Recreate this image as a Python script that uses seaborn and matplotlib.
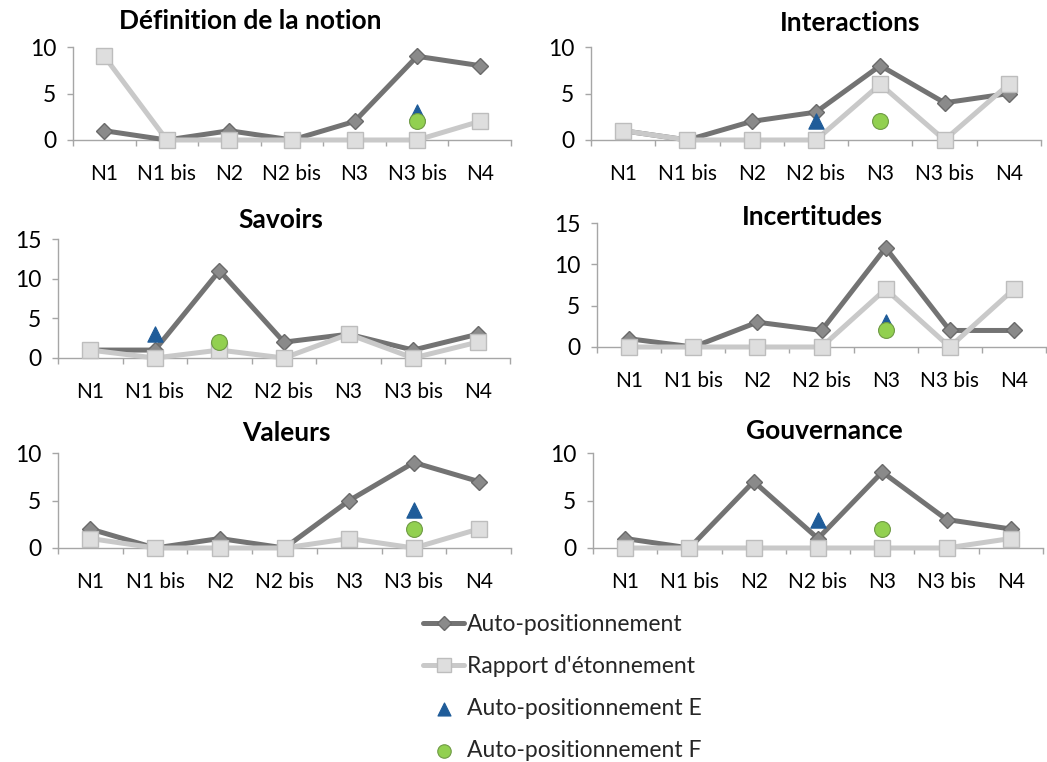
import numpy as np
import pandas as pd
import matplotlib.pyplot as plt
import seaborn as sns

# categories on the x axis
categories = ["N1", "N1 bis", "N2", "N2 bis", "N3", "N3 bis", "N4"]

# panel titles
titles = ["Définition de la notion", "Interactions", "Savoirs",
          "Incertitudes", "Valeurs", "Gouvernance"]

# Auto-positionnement (dark grey line, diamonds)
auto_def = [1, 0, 1, 0, 2, 9, 8]
auto_int = [1, 0, 2, 3, 8, 4, 5]
auto_sav = [1, 1, 11, 2, 3, 1, 3]
auto_inc = [1, 0, 3, 2, 12, 2, 2]
auto_val = [2, 0, 1, 0, 5, 9, 7]
auto_gov = [1, 0, 7, 1, 8, 3, 2]

# Rapport d'étonnement (light grey line, squares)
rapp_def = [9, 0, 0, 0, 0, 0, 2]
rapp_int = [1, 0, 0, 0, 6, 0, 6]
rapp_sav = [1, 0, 1, 0, 3, 0, 2]
rapp_inc = [0, 0, 0, 0, 7, 0, 7]
rapp_val = [1, 0, 0, 0, 1, 0, 2]
rapp_gov = [0, 0, 0, 0, 0, 0, 1]

# single points: Auto-positionnement E and F
e_cat = ["N3 bis", "N2 bis", "N1 bis", "N3", "N3 bis", "N2 bis"]
e_val = [3, 2, 3, 3, 4, 3]
f_cat = ["N3 bis", "N3", "N2", "N3", "N3 bis", "N3"]
f_val = [2, 2, 2, 2, 2, 2]

y_max = [10, 10, 15, 15, 10, 10]

auto_all = [auto_def, auto_int, auto_sav, auto_inc, auto_val, auto_gov]
rapp_all = [rapp_def, rapp_int, rapp_sav, rapp_inc, rapp_val, rapp_gov]

sns.set_theme(style="white")
plt.rcParams['font.family'] = ['Lato', 'DejaVu Sans']

AUTO_C = "#737373"
RAPP_C = "#c9c9c9"
E_C = "#1f5c99"
F_C = "#92d050"
AXIS_C = "#a6a6a6"

W, H = 1047, 762
fig = plt.figure(figsize=(W / 100, H / 100), dpi=100)

# axes boxes in pixels: left, right, top(y max), bottom(y=0)
boxes = [
    (73, 511, 47, 140),
    (591, 1041, 47, 140),
    (58, 510, 239, 358),
    (597, 1046, 223, 347),
    (58, 511, 453, 548),
    (593, 1043, 453, 548),
]
title_pos = [(250, 21), (850, 23), (281, 220), (812, 217), (286, 433), (824, 431)]

x_pos = np.arange(len(categories))

for i in range(6):
    l, r, t, b = boxes[i]
    ax = fig.add_axes([l / W, 1 - b / H, (r - l) / W, (b - t) / H])
    df = pd.DataFrame({"x": x_pos, "auto": auto_all[i], "rapp": rapp_all[i]})

    sns.lineplot(data=df, x="x", y="auto", ax=ax, color=AUTO_C, lw=3.6,
                 marker="D", markersize=8.5, markerfacecolor="#8a8a8a",
                 markeredgecolor="#6a6a6a", markeredgewidth=1,
                 label="Auto-positionnement", legend=False, clip_on=False, zorder=3)
    sns.lineplot(data=df, x="x", y="rapp", ax=ax, color=RAPP_C, lw=3.6,
                 marker="s", markersize=11.5, markerfacecolor="#dedede",
                 markeredgecolor="#bdbdbd", markeredgewidth=1,
                 label="Rapport d'étonnement", legend=False, clip_on=False, zorder=4)
    sns.scatterplot(x=[categories.index(e_cat[i])], y=[e_val[i]], ax=ax,
                    marker="^", s=120, color=E_C, edgecolor=E_C,
                    label="Auto-positionnement E", legend=False, clip_on=False, zorder=5)
    sns.scatterplot(x=[categories.index(f_cat[i])], y=[f_val[i]], ax=ax,
                    marker="o", s=130, color=F_C, edgecolor="#6f9a45", linewidth=0.8,
                    label="Auto-positionnement F", legend=False, clip_on=False, zorder=6)

    ax.set_xlim(-0.5, len(categories) - 0.5)
    ax.set_ylim(0, y_max[i])
    ax.set_yticks(np.arange(0, y_max[i] + 1, 5))
    ax.set_xticks(x_pos)
    ax.set_xticklabels(categories)
    ax.set_xticks(np.arange(-0.5, len(categories), 1), minor=True)
    ax.tick_params(axis="x", which="major", length=0, pad=17, labelsize=15, colors="black")
    ax.tick_params(axis="x", which="minor", length=4, width=1, color=AXIS_C, direction="out", bottom=True)
    ax.tick_params(axis="y", length=4, width=1, color=AXIS_C, direction="out", left=True,
                   pad=8, labelsize=16.5, labelcolor="black")
    ax.set_xlabel("")
    ax.set_ylabel("")
    for s in ["top", "right"]:
        ax.spines[s].set_visible(False)
    for s in ["left", "bottom"]:
        ax.spines[s].set_color(AXIS_C)
        ax.spines[s].set_linewidth(1)
    ax.set_facecolor("none")
    ax.grid(False)

    tx, ty = title_pos[i]
    fig.text(tx / W, 1 - ty / H, titles[i], ha="center", va="center",
             fontsize=19, fontweight="bold", color="black")

    if i == 0:
        handles, labels = ax.get_legend_handles_labels()

fig.legend(handles, labels, loc="upper left", bbox_to_anchor=(423 / W, 1 - 614 / H),
           frameon=False, fontsize=16.5, labelspacing=0.92, handlelength=1.8,
           handletextpad=0.1, borderpad=0, borderaxespad=0, markerscale=0.85)

fig.savefig("out.png", dpi=100)
